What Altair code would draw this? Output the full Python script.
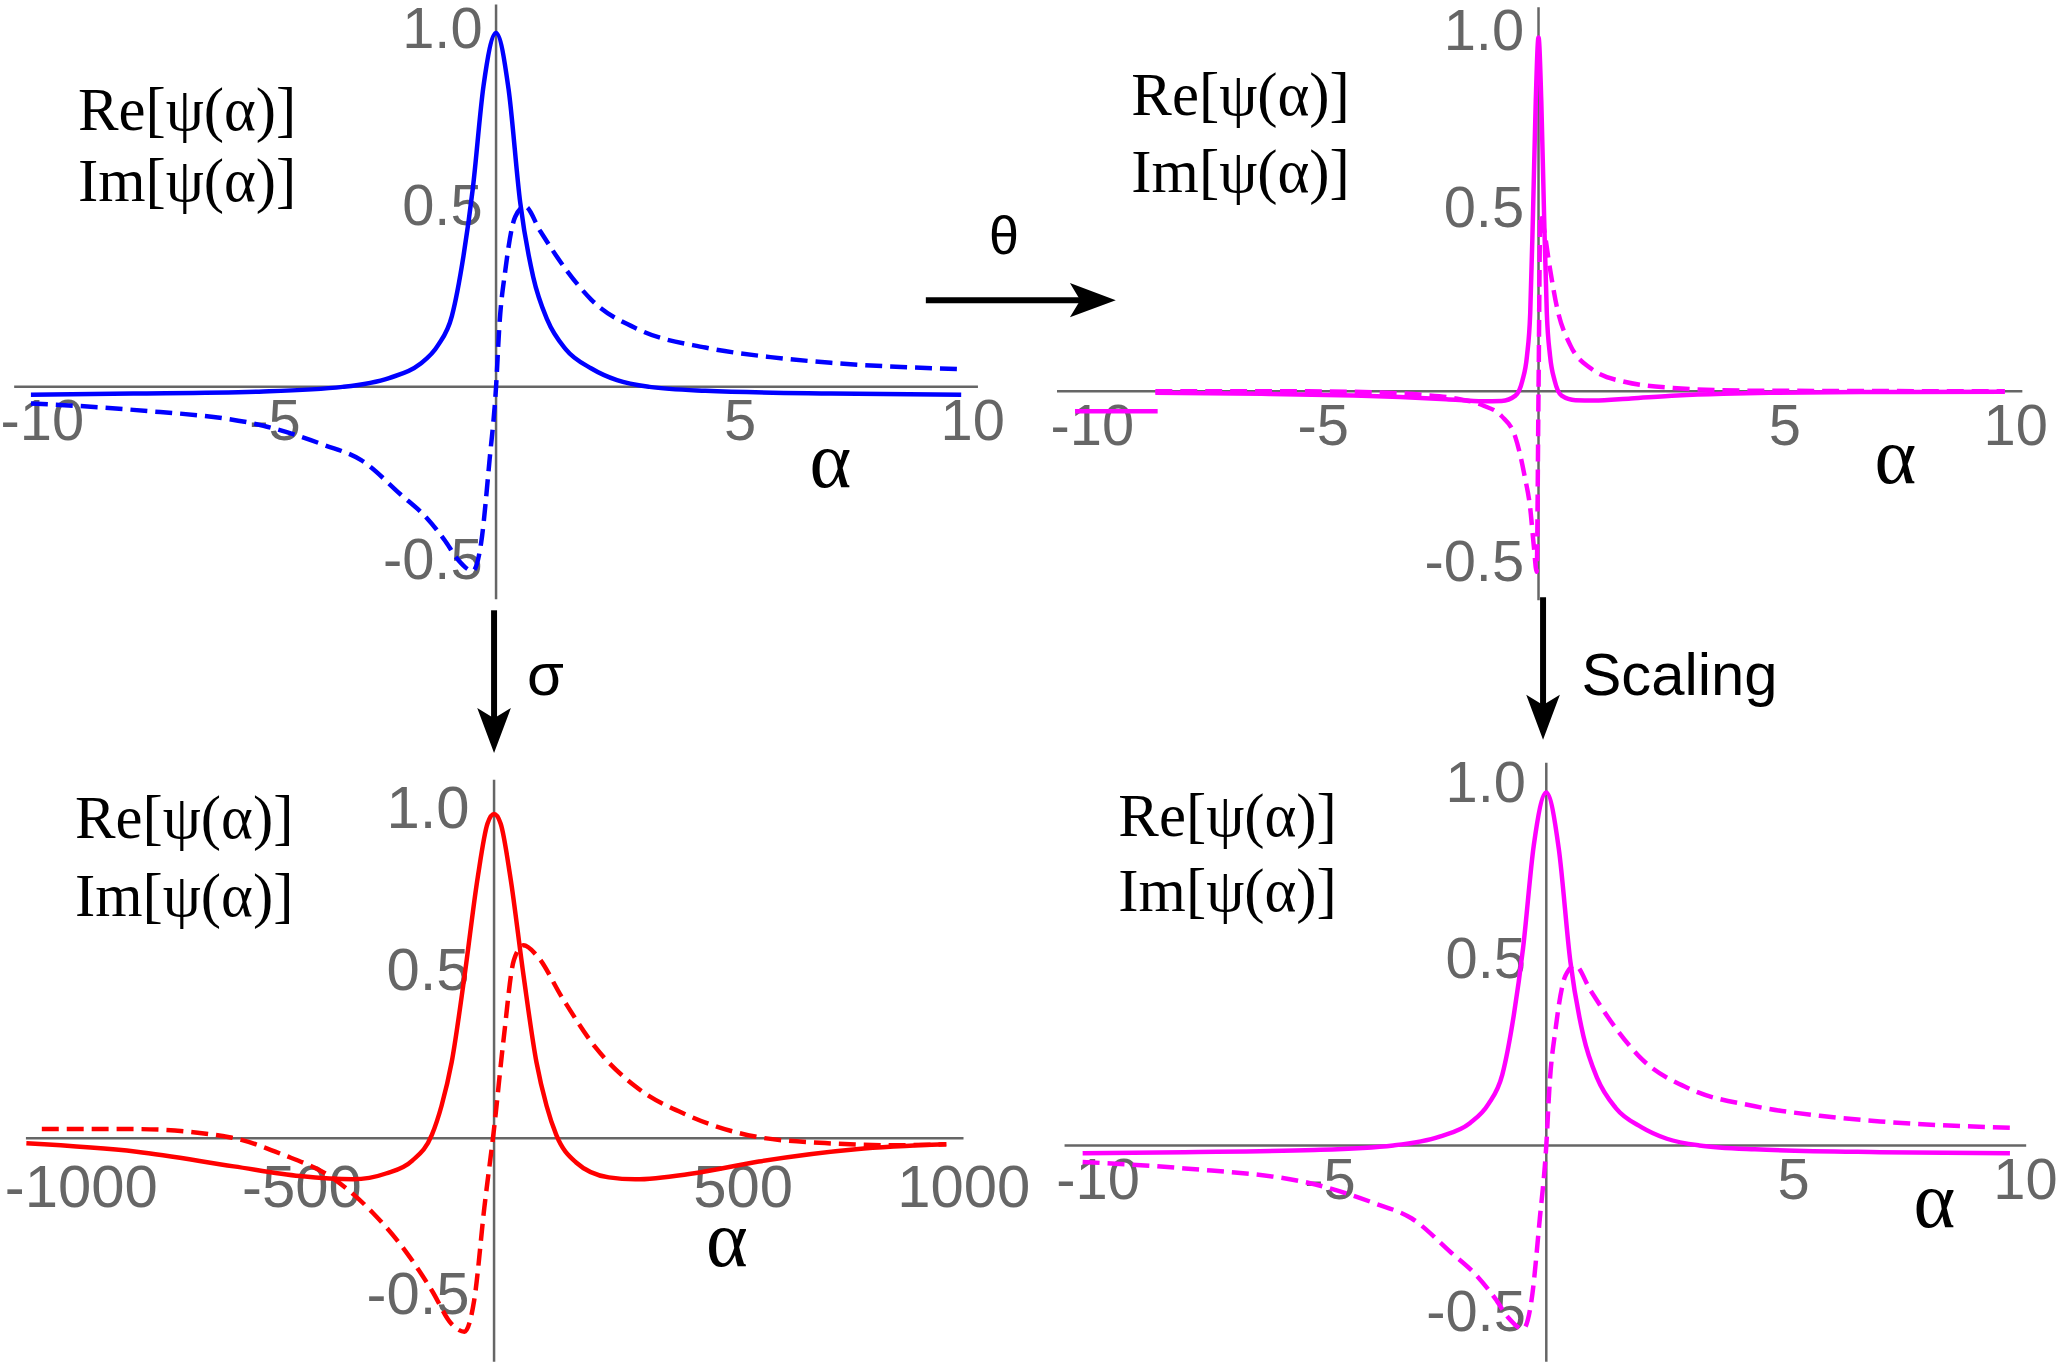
import altair as alt
import pandas as pd

# ---------------- curve samples ----------------
# psi(alpha) on alpha in [-10, 10] (top-left panel, reused after scaling)
re_a_x = [-10, -7.8, -5, -3.3, -2.3, -1.65, -1.25, -0.95, -0.7, -0.5, -0.27, 0,
          0.27, 0.52, 0.8, 1.1, 1.5, 2.05, 2.6, 3.3, 4.5, 7.2, 10]
re_a_y = [-0.022, -0.019, -0.013, 0.0, 0.025, 0.063, 0.117, 0.2, 0.37, 0.56, 0.85, 1.0,
          0.84, 0.52, 0.31, 0.19, 0.106, 0.052, 0.019, 0.0, -0.011, -0.019, -0.022]
im_a_x = [-10, -7.8, -5, -3.7, -2.9, -2.05, -1.5, -1.1, -0.82, -0.5, -0.32, -0.14, 0,
          0.07, 0.2, 0.41, 0.62, 0.95, 1.5, 2.05, 3.1, 4.5, 5.9, 7.2, 10]
im_a_y = [-0.047, -0.065, -0.11, -0.164, -0.207, -0.304, -0.369, -0.434, -0.488, -0.52,
          -0.44, -0.207, 0, 0.17, 0.33, 0.48, 0.51, 0.44, 0.332, 0.246, 0.16, 0.111,
          0.084, 0.068, 0.05]

# after the theta transformation (top-right panel)
re_b_x = [-8.3, -6, -4, -3, -2, -1.2, -0.8, -0.5, -0.35, -0.25, -0.18, -0.12, -0.06, 0,
          0.06, 0.12, 0.18, 0.25, 0.35, 0.5, 0.8, 1.2, 2, 3, 4, 5, 7, 10.1]
re_b_y = [-0.004, -0.007, -0.012, -0.016, -0.022, -0.028, -0.027, -0.012, 0.03, 0.1,
          0.22, 0.5, 0.82, 1.0, 0.82, 0.5, 0.22, 0.1, 0.03, -0.012, -0.025, -0.026,
          -0.02, -0.012, -0.007, -0.004, -0.002, -0.001]
im_b_x = [-8.3, -5, -3.5, -2.5, -1.8, -1.2, -0.8, -0.5, -0.3, -0.18, -0.1, -0.04, 0,
          0.04, 0.1, 0.25, 0.4, 0.69, 1.13, 1.86, 3, 4.5, 7, 10.1]
im_b_y = [0.0, 0.0, -0.003, -0.01, -0.02, -0.04, -0.07, -0.13, -0.24, -0.33, -0.44,
          -0.51, 0.0, 0.5, 0.47, 0.345, 0.237, 0.13, 0.065, 0.027, 0.009, 0.002, 0.001, 0.0]
stub_b_x = [-10.04, -8.25]
stub_b_y = [-0.056, -0.056]

# after the sigma transformation (bottom-left panel)
re_c_x = [-1060, -810, -590, -440, -320, -245, -186, -141, -119, -96, -67, -37, -15, 0,
          15, 37, 67, 96, 119, 141, 186, 260, 320, 450, 600, 820, 1025]
re_c_y = [-0.016, -0.042, -0.087, -0.117, -0.127, -0.109, -0.07, 0.01, 0.1, 0.235, 0.5,
          0.805, 0.97, 1.0, 0.97, 0.805, 0.5, 0.235, 0.1, 0.01, -0.075, -0.121, -0.127,
          -0.109, -0.072, -0.034, -0.019]
im_c_x = [-1025, -810, -600, -480, -365, -275, -200, -141, -96, -67, -45, -22, 0, 22, 45,
          67, 96, 156, 230, 320, 440, 600, 750, 900, 1025]
im_c_y = [0.028, 0.028, 0.003, -0.05, -0.124, -0.23, -0.35, -0.47, -0.574, -0.597, -0.5,
          -0.214, 0.03, 0.31, 0.55, 0.595, 0.565, 0.43, 0.28, 0.16, 0.07, 0.003, -0.015,
          -0.022, -0.019]

# tick labels
ticks_small = [-10, -5, 5, 10]
ticks_large = [-1000, -500, 500, 1000]
ticks_y = [-0.5, 0.5, 1.0]

LEGEND_LINES = ["Re[ψ(α)]", "Im[ψ(α)]"]

# ---------------- styling ----------------
GRAY = "#666666"
SANS = "Liberation Sans"
SERIF = "Liberation Serif"
DASH = [17, 8]
LINE_W = 4.5
HEAD_DOWN = "M0,1L-0.75,-1L0,-0.55L0.75,-1Z"
HEAD_RIGHT = "M1,0L-1,-0.75L-0.55,0L-1,0.75Z"

# group rectangle (left, top, width, height), axes origin in px, px per unit,
# and tick-label placement (x padding / shift, y padding / shift)
PANELS = {
    "a": dict(rect=(0, 0, 1030, 640), origin=(491.5, 386.0), ppu=(46.65, 355.0),
              xext=(-10.36, 10.36), yext=(-0.6, 1.08), xticks=ticks_small, fs=58,
              xpad=7, dx=11, ypad=14, dy=-2,
              legend=(-8.99, [0.727, 0.524]), alpha=(7.19, -0.282)),
    "b": dict(rect=(1030, 0, 1031, 640), origin=(1537.0, 390.5), ppu=(46.3, 355.0),
              xext=(-10.43, 10.48), yext=(-0.59, 1.085), xticks=ticks_small, fs=58,
              xpad=7, dx=15, ypad=15, dy=-5,
              legend=(-8.82, [0.782, 0.562]), alpha=(7.73, -0.258)),
    "c": dict(rect=(0, 640, 1030, 724), origin=(489.5, 1139.5), ppu=(0.4425, 325.0),
              xext=(-1061, 1064), yext=(-0.69, 1.106), xticks=ticks_large, fs=60,
              xpad=22, dx=28, ypad=25, dy=-5,
              legend=(-950, [0.925, 0.685]), alpha=(527.7, -0.395)),
    "d": dict(rect=(1030, 640, 1031, 724), origin=(1544.8, 1146.8), ppu=(46.5, 354.0),
              xext=(-10.39, 10.35), yext=(-0.613, 1.084), xticks=ticks_small, fs=58,
              xpad=7, dx=15, ypad=21, dy=-8,
              legend=(-9.23, [0.878, 0.663]), alpha=(8.37, -0.232)),
}


def panel(key, series, extras=()):
    cfg = PANELS[key]
    L, T, W, H = cfg["rect"]
    x0, y0 = cfg["origin"]
    sx, sy = cfg["ppu"]
    xs = alt.Scale(domain=[(L - x0) / sx, (L + W - x0) / sx], nice=False, zero=False)
    ys = alt.Scale(domain=[(y0 - (T + H)) / sy, (y0 - T) / sy], nice=False, zero=False)
    # axes cross at the origin: labels only, the axis lines are drawn as rules
    xaxis = alt.Axis(
        values=cfg["xticks"], offset=y0 - (T + H), domain=False, ticks=False, grid=False,
        labelPadding=cfg["xpad"], labelOffset=cfg["dx"], labelFont=SANS,
        labelFontSize=cfg["fs"], labelColor=GRAY, labelFlush=False, labelOverlap=False,
        title=None,
        labelExpr="datum.value < 0 ? '-' + format(-datum.value, 'd') : format(datum.value, 'd')",
    )
    yaxis = alt.Axis(
        values=ticks_y, offset=L - x0, domain=False, ticks=False, grid=False,
        labelPadding=cfg["ypad"], labelOffset=cfg["dy"], labelFont=SANS,
        labelFontSize=cfg["fs"], labelColor=GRAY, labelFlush=False, labelOverlap=False,
        title=None,
        labelExpr="datum.value < 0 ? '-' + format(-datum.value, '.1f') : format(datum.value, '.1f')",
    )

    def X(field="x"):
        return alt.X(f"{field}:Q", scale=xs, axis=xaxis)

    def Y(field="y"):
        return alt.Y(f"{field}:Q", scale=ys, axis=yaxis)

    def curve(xv, yv, color, dashed):
        kw = dict(color=color, strokeWidth=LINE_W, interpolate="monotone")
        if dashed:
            kw["strokeDash"] = DASH
        return alt.Chart(pd.DataFrame({"x": xv, "y": yv})).mark_line(**kw).encode(
            x=X(), y=Y(), order="x:Q")

    def texts(rows, font, size, align="left"):
        df = pd.DataFrame(rows, columns=["x", "y", "t"])
        return alt.Chart(df).mark_text(
            font=font, fontSize=size, align=align, baseline="alphabetic", color="black"
        ).encode(x=X(), y=Y(), text="t:N")

    def shaft(x1, x2, y1, y2):
        df = pd.DataFrame({"x": [x1], "x2": [x2], "y": [y1], "y2": [y2]})
        return alt.Chart(df).mark_rule(color="black", strokeWidth=6).encode(
            x=X(), x2="x2:Q", y=Y(), y2="y2:Q")

    def head(x, y, path, size):
        df = pd.DataFrame({"x": [x], "y": [y]})
        return alt.Chart(df).mark_point(
            shape=path, size=size, filled=True, color="black", opacity=1, strokeWidth=0
        ).encode(x=X(), y=Y())

    tools = dict(texts=texts, shaft=shaft, head=head)

    xa0, xa1 = cfg["xext"]
    ya0, ya1 = cfg["yext"]
    h_axis = alt.Chart(pd.DataFrame({"x": [xa0], "x2": [xa1], "y": [0.0]})).mark_rule(
        color=GRAY, strokeWidth=2.5).encode(x=X(), x2="x2:Q", y=Y())
    v_axis = alt.Chart(pd.DataFrame({"x": [0.0], "y": [ya0], "y2": [ya1]})).mark_rule(
        color=GRAY, strokeWidth=2.5).encode(x=X(), y=Y(), y2="y2:Q")
    layers = [h_axis, v_axis]
    for xv, yv, color, dashed in series:
        layers.append(curve(xv, yv, color, dashed))
    lx, lys = cfg["legend"]
    layers.append(texts([[lx, lys[0], LEGEND_LINES[0]], [lx, lys[1], LEGEND_LINES[1]]],
                        SERIF, 61))
    ax, ay = cfg["alpha"]
    layers.append(texts([[ax, ay, "α"]], SERIF, 80, align="center"))
    for build in extras:
        layers.append(build(tools))
    return alt.layer(*layers).properties(width=W, height=H)


BLUE, MAGENTA, RED = "#0000ff", "#ff00ff", "#ff0000"

p_a = panel("a", [(re_a_x, re_a_y, BLUE, False), (im_a_x, im_a_y, BLUE, True)], extras=[
    lambda t: t["shaft"](9.24, 12.6, 0.245, 0.245),
    lambda t: t["head"](12.83, 0.245, HEAD_RIGHT, 2116),
    lambda t: t["texts"]([[10.92, 0.375, "θ"]], SANS, 54, align="center"),
])
p_b = panel("b", [(re_b_x, re_b_y, MAGENTA, False), (im_b_x, im_b_y, MAGENTA, True),
                  (stub_b_x, stub_b_y, MAGENTA, False)])
p_c = panel("c", [(re_c_x, re_c_y, RED, False), (im_c_x, im_c_y, RED, True)], extras=[
    lambda t: t["shaft"](0, 0, 1.629, 1.245),
    lambda t: t["head"](0, 1.258, HEAD_DOWN, 2025),
    lambda t: t["texts"]([[116.4, 1.368, "σ"]], SANS, 60, align="center"),
])
p_d = panel("d", [(re_a_x, re_a_y, MAGENTA, False), (im_a_x, im_a_y, MAGENTA, True)], extras=[
    lambda t: t["shaft"](-0.07, -0.07, 1.553, 1.172),
    lambda t: t["head"](-0.07, 1.213, HEAD_DOWN, 2025),
    lambda t: t["texts"]([[0.757, 1.276, "Scaling"]], SANS, 60),
])

chart = alt.concat(
    p_a, p_b, p_c, p_d, columns=2, spacing=0, bounds="flush"
).properties(padding=0, background="white").configure_view(stroke=None)

chart.save("out.html", embed_options={"renderer": "svg", "actions": False})
